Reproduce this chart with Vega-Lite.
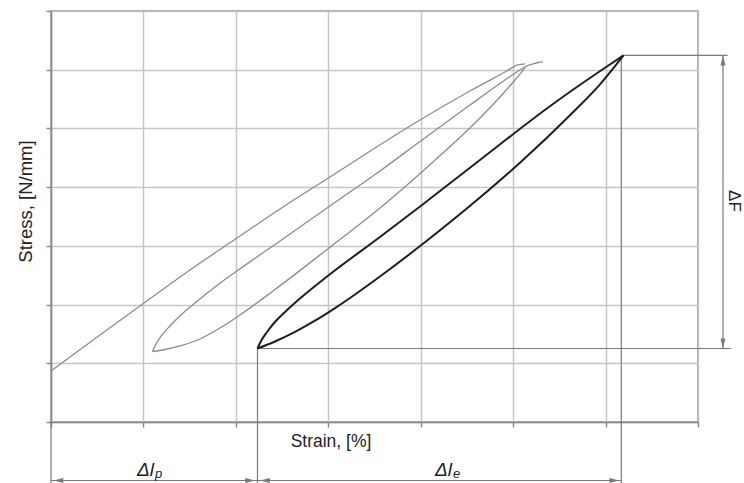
{
  "$schema": "https://vega.github.io/schema/vega-lite/v6.json",
  "width": 647,
  "height": 411,
  "autosize": {"type": "none"},
  "padding": {"left": 51, "top": 11, "right": 46, "bottom": 61},
  "background": "white",
  "config": {
    "view": {"stroke": "#8a8a8a", "strokeWidth": 1.5},
    "font": "Liberation Sans"
  },
  "datasets": {
    "curves": [
      {"series": "g1", "loop": "first", "i": 0, "x": 0, "y": 0.869},
      {"series": "g1", "loop": "first", "i": 1, "x": 0.53, "y": 1.482},
      {"series": "g1", "loop": "first", "i": 2, "x": 1.006, "y": 2.027},
      {"series": "g1", "loop": "first", "i": 3, "x": 1.504, "y": 2.589},
      {"series": "g1", "loop": "first", "i": 4, "x": 2.012, "y": 3.134},
      {"series": "g1", "loop": "first", "i": 5, "x": 2.51, "y": 3.662},
      {"series": "g1", "loop": "first", "i": 6, "x": 3.018, "y": 4.173},
      {"series": "g1", "loop": "first", "i": 7, "x": 3.505, "y": 4.667},
      {"series": "g1", "loop": "first", "i": 8, "x": 3.992, "y": 5.144},
      {"series": "g1", "loop": "first", "i": 9, "x": 4.533, "y": 5.638},
      {"series": "g1", "loop": "first", "i": 10, "x": 4.912, "y": 5.961},
      {"series": "g1", "loop": "first", "i": 11, "x": 5.052, "y": 6.081},
      {"series": "g1", "loop": "first", "i": 12, "x": 5.128, "y": 6.098},
      {"series": "g2", "loop": "first", "i": 0, "x": 1.098, "y": 1.201},
      {"series": "g2", "loop": "first", "i": 1, "x": 1.136, "y": 1.329},
      {"series": "g2", "loop": "first", "i": 2, "x": 1.201, "y": 1.482},
      {"series": "g2", "loop": "first", "i": 3, "x": 1.287, "y": 1.635},
      {"series": "g2", "loop": "first", "i": 4, "x": 1.406, "y": 1.823},
      {"series": "g2", "loop": "first", "i": 5, "x": 1.558, "y": 2.027},
      {"series": "g2", "loop": "first", "i": 6, "x": 1.774, "y": 2.299},
      {"series": "g2", "loop": "first", "i": 7, "x": 2.012, "y": 2.572},
      {"series": "g2", "loop": "first", "i": 8, "x": 2.478, "y": 3.083},
      {"series": "g2", "loop": "first", "i": 9, "x": 3.018, "y": 3.679},
      {"series": "g2", "loop": "first", "i": 10, "x": 3.559, "y": 4.275},
      {"series": "g2", "loop": "first", "i": 11, "x": 4.014, "y": 4.803},
      {"series": "g2", "loop": "first", "i": 12, "x": 4.533, "y": 5.399},
      {"series": "g2", "loop": "first", "i": 13, "x": 4.912, "y": 5.825},
      {"series": "g2", "loop": "first", "i": 14, "x": 5.074, "y": 5.996},
      {"series": "g2", "loop": "first", "i": 15, "x": 5.15, "y": 6.064},
      {"series": "g2", "loop": "first", "i": 16, "x": 5.215, "y": 6.098},
      {"series": "g2", "loop": "first", "i": 17, "x": 5.269, "y": 6.123},
      {"series": "g2", "loop": "first", "i": 18, "x": 5.323, "y": 6.132},
      {"series": "g3", "loop": "first", "i": 0, "x": 1.098, "y": 1.201},
      {"series": "g3", "loop": "first", "i": 1, "x": 1.233, "y": 1.235},
      {"series": "g3", "loop": "first", "i": 2, "x": 1.396, "y": 1.295},
      {"series": "g3", "loop": "first", "i": 3, "x": 1.612, "y": 1.414},
      {"series": "g3", "loop": "first", "i": 4, "x": 1.828, "y": 1.601},
      {"series": "g3", "loop": "first", "i": 5, "x": 2.045, "y": 1.823},
      {"series": "g3", "loop": "first", "i": 6, "x": 2.402, "y": 2.231},
      {"series": "g3", "loop": "first", "i": 7, "x": 3.008, "y": 2.964},
      {"series": "g3", "loop": "first", "i": 8, "x": 3.559, "y": 3.645},
      {"series": "g3", "loop": "first", "i": 9, "x": 4.133, "y": 4.429},
      {"series": "g3", "loop": "first", "i": 10, "x": 4.609, "y": 5.127},
      {"series": "g3", "loop": "first", "i": 11, "x": 4.858, "y": 5.536},
      {"series": "g3", "loop": "first", "i": 12, "x": 5.02, "y": 5.825},
      {"series": "g3", "loop": "first", "i": 13, "x": 5.128, "y": 6.03},
      {"series": "b1", "loop": "second", "i": 0, "x": 2.234, "y": 1.252},
      {"series": "b1", "loop": "second", "i": 1, "x": 2.272, "y": 1.38},
      {"series": "b1", "loop": "second", "i": 2, "x": 2.337, "y": 1.533},
      {"series": "b1", "loop": "second", "i": 3, "x": 2.423, "y": 1.703},
      {"series": "b1", "loop": "second", "i": 4, "x": 2.532, "y": 1.874},
      {"series": "b1", "loop": "second", "i": 5, "x": 2.662, "y": 2.061},
      {"series": "b1", "loop": "second", "i": 6, "x": 3.008, "y": 2.504},
      {"series": "b1", "loop": "second", "i": 7, "x": 3.559, "y": 3.151},
      {"series": "b1", "loop": "second", "i": 8, "x": 4.014, "y": 3.696},
      {"series": "b1", "loop": "second", "i": 9, "x": 4.641, "y": 4.463},
      {"series": "b1", "loop": "second", "i": 10, "x": 5.431, "y": 5.416},
      {"series": "b1", "loop": "second", "i": 11, "x": 5.942, "y": 5.978},
      {"series": "b1", "loop": "second", "i": 12, "x": 6.194, "y": 6.243},
      {"series": "b2", "loop": "second", "i": 0, "x": 2.234, "y": 1.252},
      {"series": "b2", "loop": "second", "i": 1, "x": 2.423, "y": 1.371},
      {"series": "b2", "loop": "second", "i": 2, "x": 2.64, "y": 1.535},
      {"series": "b2", "loop": "second", "i": 3, "x": 2.856, "y": 1.725},
      {"series": "b2", "loop": "second", "i": 4, "x": 3.073, "y": 1.94},
      {"series": "b2", "loop": "second", "i": 5, "x": 3.289, "y": 2.172},
      {"series": "b2", "loop": "second", "i": 6, "x": 3.559, "y": 2.478},
      {"series": "b2", "loop": "second", "i": 7, "x": 4.014, "y": 3.022},
      {"series": "b2", "loop": "second", "i": 8, "x": 4.641, "y": 3.822},
      {"series": "b2", "loop": "second", "i": 9, "x": 5.074, "y": 4.415},
      {"series": "b2", "loop": "second", "i": 10, "x": 5.615, "y": 5.224},
      {"series": "b2", "loop": "second", "i": 11, "x": 5.94, "y": 5.75},
      {"series": "b2", "loop": "second", "i": 12, "x": 6.194, "y": 6.243}
    ],
    "guides": [
      {"x": 6.19, "y": 6.243, "x2": 7.32, "y2": 6.243},
      {"x": 2.234, "y": 1.252, "x2": 7.36, "y2": 1.252},
      {"x": 6.17, "y": 6.243, "x2": 6.17, "y2": -1.05},
      {"x": 2.234, "y": 1.252, "x2": 2.234, "y2": -1.05},
      {"x": 0, "y": 0, "x2": 0, "y2": -1.05},
      {"x": 7.27, "y": 6.243, "x2": 7.27, "y2": 1.252},
      {"x": 0, "y": -0.996, "x2": 2.234, "y2": -0.996},
      {"x": 2.234, "y": -0.996, "x2": 6.17, "y2": -0.996}
    ],
    "arrows": [
      {"dir": "up", "x": 7.27, "y": 6.243},
      {"dir": "down", "x": 7.27, "y": 1.252},
      {"dir": "left", "x": 0.025, "y": -0.996},
      {"dir": "right", "x": 2.21, "y": -0.996},
      {"dir": "left", "x": 2.26, "y": -0.996},
      {"dir": "right", "x": 6.15, "y": -0.996}
    ],
    "labels": [
      {"role": "main", "text": "Δl", "x": 1.114, "y": -0.92},
      {"role": "sub", "text": "p", "x": 1.125, "y": -0.954},
      {"role": "main", "text": "Δl", "x": 4.338, "y": -0.92},
      {"role": "sub", "text": "e", "x": 4.349, "y": -0.954},
      {"role": "rot", "text": "ΔF", "x": 7.39, "y": 3.764}
    ]
  },
  "encoding": {
    "x": {
      "field": "x", "type": "quantitative",
      "scale": {"domain": [0, 7], "nice": false, "zero": false},
      "axis": {
        "values": [0, 1, 2, 3, 4, 5, 6, 7], "labels": false, "grid": true,
        "ticks": true, "tickSize": 5, "tickColor": "#8a8a8a", "tickWidth": 1.5,
        "domain": true, "domainColor": "#8a8a8a", "domainWidth": 1.5,
        "gridColor": "#c6c6c6", "gridWidth": 1.5,
        "title": "Strain, [%]", "titleFont": "Liberation Sans", "titleFontSize": 17.5,
        "titleFontWeight": "normal", "titleColor": "#222",
        "titleX": 279.5, "titleY": 24, "titleBaseline": "alphabetic", "titleAlign": "center"
      }
    },
    "y": {
      "field": "y", "type": "quantitative",
      "scale": {"domain": [0, 7], "nice": false, "zero": false},
      "axis": {
        "values": [0, 1, 2, 3, 4, 5, 6, 7], "labels": false, "grid": true,
        "ticks": true, "tickSize": 5, "tickColor": "#8a8a8a", "tickWidth": 1.5,
        "domain": true, "domainColor": "#8a8a8a", "domainWidth": 1.5,
        "gridColor": "#c6c6c6", "gridWidth": 1.5,
        "title": "Stress, [N/mm]", "titleFont": "Liberation Sans", "titleFontSize": 18.5,
        "titleFontWeight": "normal", "titleColor": "#222", "titleAngle": -90,
        "titleX": -20, "titleY": 190, "titleBaseline": "alphabetic", "titleAlign": "center"
      }
    }
  },
  "layer": [
    {
      "data": {"name": "guides"},
      "mark": {"type": "rule", "color": "#7a7a7a", "strokeWidth": 1.2},
      "encoding": {"x2": {"field": "x2"}, "y2": {"field": "y2"}}
    },
    {
      "data": {"name": "curves"},
      "transform": [{"filter": "datum.loop == 'first'"}],
      "mark": {"type": "line", "color": "#8c8c8c", "strokeWidth": 1.3, "interpolate": "monotone"},
      "encoding": {"detail": {"field": "series"}, "order": {"field": "i", "type": "quantitative"}}
    },
    {
      "data": {"name": "curves"},
      "transform": [{"filter": "datum.loop == 'second'"}],
      "mark": {"type": "line", "color": "#1e1e1e", "strokeWidth": 2, "interpolate": "monotone"},
      "encoding": {"detail": {"field": "series"}, "order": {"field": "i", "type": "quantitative"}}
    },
    {
      "data": {"name": "arrows"},
      "transform": [{"filter": "datum.dir == 'up'"}],
      "mark": {"type": "point", "shape": "M0,0L-0.5,2L0.5,2Z", "filled": true, "color": "#7a7a7a", "opacity": 1, "size": 100}
    },
    {
      "data": {"name": "arrows"},
      "transform": [{"filter": "datum.dir == 'down'"}],
      "mark": {"type": "point", "shape": "M0,0L-0.5,-2L0.5,-2Z", "filled": true, "color": "#7a7a7a", "opacity": 1, "size": 100}
    },
    {
      "data": {"name": "arrows"},
      "transform": [{"filter": "datum.dir == 'left'"}],
      "mark": {"type": "point", "shape": "M0,0L2,-0.5L2,0.5Z", "filled": true, "color": "#7a7a7a", "opacity": 1, "size": 100}
    },
    {
      "data": {"name": "arrows"},
      "transform": [{"filter": "datum.dir == 'right'"}],
      "mark": {"type": "point", "shape": "M0,0L-2,-0.5L-2,0.5Z", "filled": true, "color": "#7a7a7a", "opacity": 1, "size": 100}
    },
    {
      "data": {"name": "labels"},
      "transform": [{"filter": "datum.role == 'main'"}],
      "mark": {"type": "text", "font": "Liberation Sans", "fontStyle": "italic", "fontSize": 19, "align": "right", "baseline": "alphabetic", "color": "#222"},
      "encoding": {"text": {"field": "text"}}
    },
    {
      "data": {"name": "labels"},
      "transform": [{"filter": "datum.role == 'sub'"}],
      "mark": {"type": "text", "font": "Liberation Sans", "fontStyle": "italic", "fontSize": 13, "align": "left", "baseline": "alphabetic", "color": "#222"},
      "encoding": {"text": {"field": "text"}}
    },
    {
      "data": {"name": "labels"},
      "transform": [{"filter": "datum.role == 'rot'"}],
      "mark": {"type": "text", "font": "Liberation Sans", "fontSize": 17, "align": "center", "baseline": "middle", "angle": 90, "color": "#222"},
      "encoding": {"text": {"field": "text"}}
    }
  ]
}
